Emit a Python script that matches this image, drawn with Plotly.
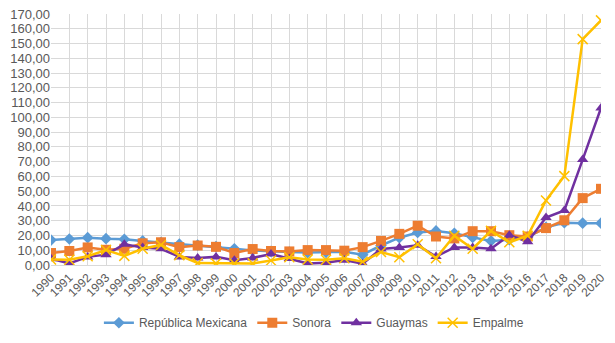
import plotly.graph_objects as go

years = [str(y) for y in range(1990, 2021)]

rep_mexicana = [16.9, 17.6, 18.5, 17.8, 17.4, 16.3, 15.3, 14.1, 13.4, 12.5, 11.0,
                9.9, 9.2, 8.8, 8.4, 8.6, 9.0, 7.0, 13.2, 18.5, 22.0,
                23.1, 21.5, 18.7, 16.3, 17.1, 18.9, 25.5, 28.6, 28.3, 28.3]
sonora = [8.1, 9.5, 11.9, 10.3, 11.0, 14.7, 15.4, 12.1, 13.2, 12.3, 8.1,
          10.8, 9.5, 9.2, 10.1, 10.1, 9.7, 12.1, 16.3, 21.1, 26.6,
          19.3, 18.0, 22.9, 22.9, 20.2, 19.3, 25.0, 30.3, 45.3, 51.6]
guaymas = [4.2, 1.1, 5.5, 7.0, 14.0, 11.9, 11.0, 5.5, 4.8, 5.5, 3.3,
           4.8, 7.5, 4.4, 1.1, 1.5, 3.3, 0.9, 10.8, 11.9, 13.4,
           5.7, 11.9, 11.9, 11.0, 20.2, 15.8, 32.1, 36.9, 71.4, 106.4]
empalme = [3.7, 3.5, 5.9, 10.1, 6.2, 11.0, 13.6, 6.6, 1.3, 1.1, 1.1,
           1.1, 3.1, 5.3, 3.7, 3.5, 4.6, 2.2, 8.8, 5.3, 14.1,
           4.6, 19.8, 11.0, 23.1, 15.4, 19.8, 43.7, 60.2, 153.0, 165.7]

y_ticks = list(range(0, 171, 10))

series = [
    ("República Mexicana", rep_mexicana, "#5B9BD5", "diamond", 9, 0),
    ("Sonora", sonora, "#ED7D31", "square", 10, 0),
    ("Guaymas", guaymas, "#7030A0", "triangle-up", 10, 0),
    ("Empalme", empalme, "#FFC000", "x-thin-open", 10, 1.5),
]

fig = go.Figure()
for name, vals, color, sym, size, lw in series:
    marker = dict(symbol=sym, size=size, color=color)
    if lw:
        marker["line"] = dict(color=color, width=lw)
    fig.add_trace(go.Scatter(
        x=years, y=vals, name=name, mode="lines+markers",
        line=dict(color=color, width=2.5), marker=marker,
    ))

fnt = "Liberation Sans"
# page body has an 8px default margin, so the figure is 8px smaller
fig.update_layout(
    width=607, height=335,
    margin=dict(l=43, r=14, t=6, b=76),
    paper_bgcolor="white", plot_bgcolor="white",
    separators=",.",
    font=dict(family=fnt, size=13, color="#595959"),
    legend=dict(orientation="h", x=0.478, xanchor="center", y=-0.23, yanchor="middle",
                font=dict(family=fnt, size=12, color="#595959"), itemwidth=30, tracegroupgap=0),
    showlegend=True,
)
fig.update_xaxes(type="category", range=[0, 30], tickangle=-45, automargin=False,
                 ticklabeloverflow="allow",
                 showgrid=True, gridcolor="#D9D9D9", gridwidth=1,
                 showline=True, linecolor="#D9D9D9", ticks="", tickfont=dict(family=fnt, size=12))
fig.update_yaxes(range=[0, 170], tickvals=y_ticks, tickformat=".2f", automargin=False,
                 ticklabeloverflow="allow",
                 showgrid=True, gridcolor="#D9D9D9", gridwidth=1,
                 zeroline=False, showline=False, ticks="", tickfont=dict(family=fnt, size=13))

fig.write_html("out.html", config={"displayModeBar": False})
